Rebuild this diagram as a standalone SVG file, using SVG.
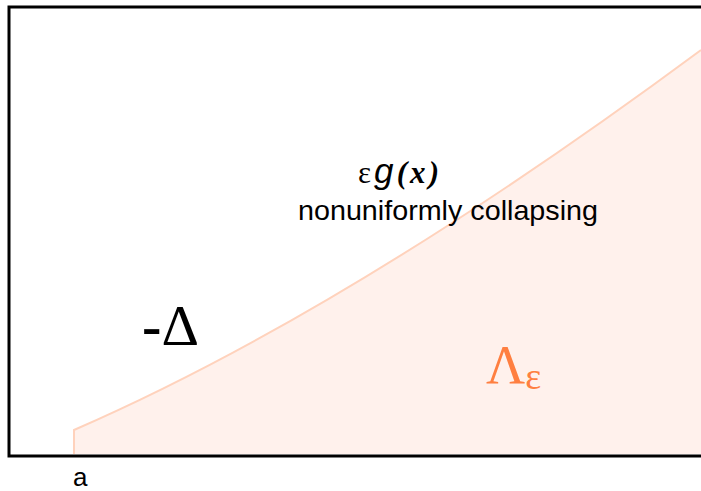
<svg xmlns="http://www.w3.org/2000/svg" width="701" height="491" viewBox="0 0 701 491">
<style>
.sans{font-family:"Liberation Sans",Arial,sans-serif;fill:#000}
.serif{font-family:"Liberation Serif","Times New Roman",serif}
</style>
<rect width="701" height="491" fill="#fff"/>
<g id="region">
<path d="M74,454 L74,430 Q350,310 701,50 L701,454 Z" fill="#FFF1EC"/>
<path d="M74,454 L74,430 Q350,310 701,50" fill="none" stroke="#FFD2BC" stroke-width="2"/>
</g>
<g id="frame">
<path d="M705,7 L9,7 L9,456 L705,456" fill="none" stroke="#000" stroke-width="3"/>
</g>
<g id="labels">
<text x="358" y="183" class="serif" font-size="31" textLength="81" lengthAdjust="spacing"><tspan>ε</tspan><tspan font-family="Liberation Sans" font-style="italic" font-size="35">g</tspan><tspan font-style="italic" font-weight="bold">(x)</tspan></text>
<text x="298" y="220" class="sans" font-size="28" textLength="300" lengthAdjust="spacingAndGlyphs">nonuniformly collapsing</text>
<text x="142" y="345" class="serif" font-size="58" textLength="57" lengthAdjust="spacingAndGlyphs"><tspan font-weight="bold">-</tspan>Δ</text>
<text x="486" y="383" class="serif" font-size="54" fill="#FF7F40">Λ<tspan font-size="38" dy="6">ε</tspan></text>
<text x="73" y="486" class="sans" font-size="26">a</text>
</g>
</svg>
